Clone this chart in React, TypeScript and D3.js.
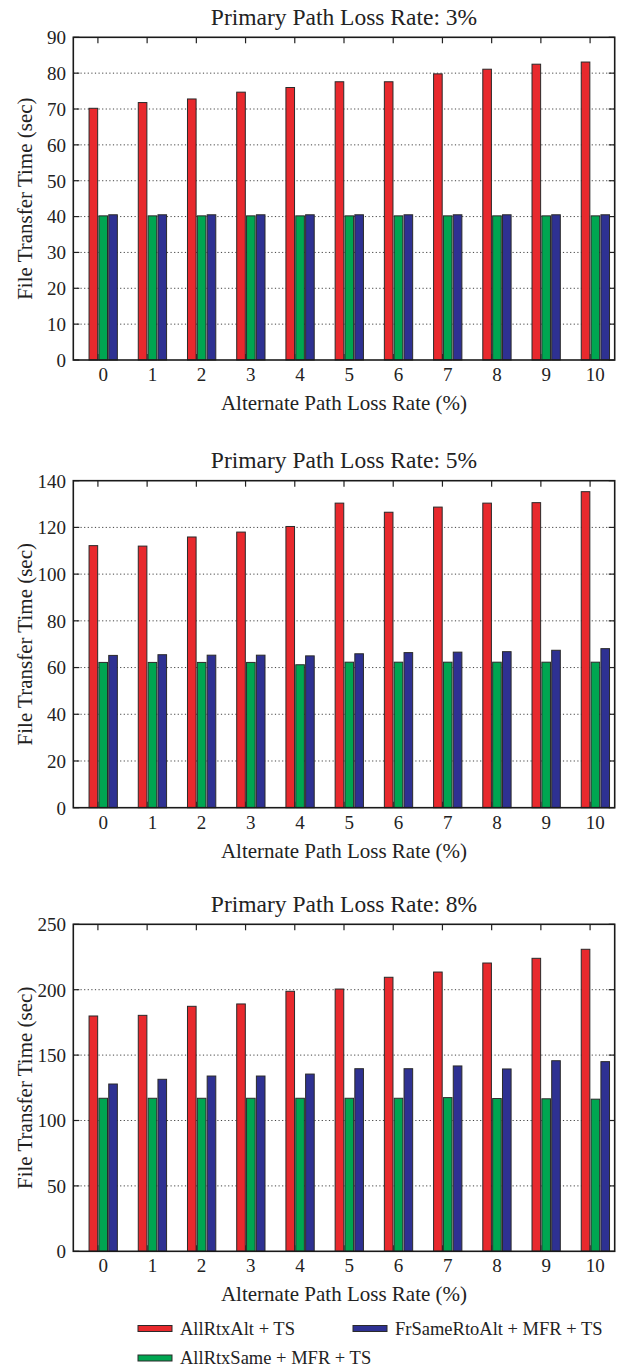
import React from 'react';
import * as d3 from 'd3';

const categories = [0, 1, 2, 3, 4, 5, 6, 7, 8, 9, 10];
const seriesNames = ['AllRtxAlt + TS', 'AllRtxSame + MFR + TS', 'FrSameRtoAlt + MFR + TS'];
const seriesColors = ['#E8292D', '#00A651', '#2E3192'];

// Primary loss 3%
const p3AllRtxAlt = [70.2, 71.8, 72.8, 74.7, 76.0, 77.6, 77.6, 79.8, 81.1, 82.5, 83.1];
const p3AllRtxSame = [40.2, 40.2, 40.2, 40.2, 40.2, 40.2, 40.2, 40.2, 40.2, 40.2, 40.2];
const p3FrSameRtoAlt = [40.5, 40.5, 40.5, 40.5, 40.5, 40.5, 40.5, 40.5, 40.5, 40.5, 40.5];

// Primary loss 5%
const p5AllRtxAlt = [112.2, 112.0, 115.9, 118.0, 120.4, 130.4, 126.5, 128.7, 130.4, 130.6, 135.3];
const p5AllRtxSame = [62.2, 62.2, 62.2, 62.2, 61.2, 62.3, 62.3, 62.3, 62.3, 62.3, 62.3];
const p5FrSameRtoAlt = [65.2, 65.5, 65.3, 65.3, 65.0, 65.9, 66.4, 66.6, 66.8, 67.4, 68.1];

// Primary loss 8%
const p8AllRtxAlt = [179.9, 180.4, 187.3, 189.1, 198.8, 200.5, 209.5, 213.5, 220.4, 224.0, 230.9];
const p8AllRtxSame = [117.0, 117.0, 117.0, 117.0, 117.0, 117.0, 117.0, 117.5, 116.8, 116.6, 116.3];
const p8FrSameRtoAlt = [127.9, 131.5, 134.0, 134.0, 135.5, 139.6, 139.6, 141.7, 139.4, 145.7, 145.0];

const titles = ['Primary Path Loss Rate: 3%', 'Primary Path Loss Rate: 5%', 'Primary Path Loss Rate: 8%'];
const yMaxes = [90, 140, 250];
const ySteps = [10, 20, 50];
const xTitle = 'Alternate Path Loss Rate (%)';
const yTitle = 'File Transfer Time (sec)';

const panelData = [
  [p3AllRtxAlt, p3AllRtxSame, p3FrSameRtoAlt],
  [p5AllRtxAlt, p5AllRtxSame, p5FrSameRtoAlt],
  [p8AllRtxAlt, p8AllRtxSame, p8FrSameRtoAlt],
];

const FONT = '"Liberation Serif", "DejaVu Serif", serif';
const PLOT_LEFT = 73.3;
const PLOT_RIGHT = 614.7;
const panelTops = [37.3, 480.7, 924.3];
const panelBottoms = [360, 807.7, 1251.3];
const barOffsets = [-0.18, 0.02, 0.22];
const barW = 0.175;
const labelOffset = 0.107;

function Panel({ idx }: { idx: number }) {
  const top = panelTops[idx];
  const bottom = panelBottoms[idx];
  const yMax = yMaxes[idx];
  const step = ySteps[idx];
  const x = d3.scaleLinear().domain([-0.5, 10.5]).range([PLOT_LEFT, PLOT_RIGHT]);
  const y = d3.scaleLinear().domain([0, yMax]).range([bottom, top]);
  const yTicks = d3.range(0, yMax + step / 2, step);
  const series = panelData[idx];
  const midX = (PLOT_LEFT + PLOT_RIGHT) / 2;
  const midY = (top + bottom) / 2;
  const tl = 6;
  return (
    <g>
      <text x={midX} y={top - 12.5} textAnchor="middle" fontSize={23.5} fontFamily={FONT} fill="#222">
        {titles[idx]}
      </text>
      {yTicks.filter((t) => t > 0 && t < yMax).map((t) => (
        <line key={'g' + t} x1={PLOT_LEFT} x2={PLOT_RIGHT} y1={y(t)} y2={y(t)} stroke="#444" strokeWidth={1} strokeDasharray="1.2,2.4" />
      ))}
      {yTicks.map((t) => (
        <g key={'yt' + t}>
          <line x1={PLOT_LEFT} x2={PLOT_LEFT + tl} y1={y(t)} y2={y(t)} stroke="#222" strokeWidth={1.2} />
          <line x1={PLOT_RIGHT} x2={PLOT_RIGHT - tl} y1={y(t)} y2={y(t)} stroke="#222" strokeWidth={1.2} />
          <text x={66} y={y(t)} dy="0.36em" textAnchor="end" fontSize={19} fontFamily={FONT} fill="#222">
            {t}
          </text>
        </g>
      ))}
      {categories.map((c) => (
        <g key={'xt' + c}>
          <line x1={x(c)} x2={x(c)} y1={top} y2={top + tl} stroke="#222" strokeWidth={1.2} />
          <line x1={x(c)} x2={x(c)} y1={bottom} y2={bottom - tl} stroke="#222" strokeWidth={1.2} />
          <text x={x(c + labelOffset)} y={bottom + 21} textAnchor="middle" fontSize={19} fontFamily={FONT} fill="#222">
            {c}
          </text>
        </g>
      ))}
      {series.map((vals, si) =>
        categories.map((c, ci) => (
          <rect
            key={'b' + si + '-' + ci}
            x={x(c + barOffsets[si])}
            width={x(barW) - x(0)}
            y={y(vals[ci])}
            height={bottom - y(vals[ci])}
            fill={seriesColors[si]}
            stroke="#2a2a2a"
            strokeWidth={1}
          />
        ))
      )}
      <rect x={PLOT_LEFT} y={top} width={PLOT_RIGHT - PLOT_LEFT} height={bottom - top} fill="none" stroke="#1a1a1a" strokeWidth={1.6} />
      <text x={midX} y={bottom + 50} textAnchor="middle" fontSize={21} fontFamily={FONT} fill="#222">
        {xTitle}
      </text>
      <text transform={`translate(32,${midY}) rotate(-90)`} textAnchor="middle" fontSize={21} fontFamily={FONT} fill="#222">
        {yTitle}
      </text>
    </g>
  );
}

const legendPos = [
  { x: 138, y: 1328.5 },
  { x: 138, y: 1358 },
  { x: 353, y: 1328.5 },
];

export default function App() {
  return (
    <svg width={624} height={1368} style={{ position: 'absolute', left: 0, top: 0, background: '#fff' }}>
      <rect x={0} y={0} width={624} height={1368} fill="#fff" />
      {[0, 1, 2].map((i) => (
        <Panel key={i} idx={i} />
      ))}
      {seriesNames.map((n, i) => (
        <g key={n}>
          <rect x={legendPos[i].x} y={legendPos[i].y - 3} width={34} height={6} fill={seriesColors[i]} stroke="#2a2a2a" strokeWidth={1} />
          <text x={legendPos[i].x + 42} y={legendPos[i].y + 6} fontSize={18.5} fontFamily={FONT} fill="#222">
            {n}
          </text>
        </g>
      ))}
    </svg>
  );
}
